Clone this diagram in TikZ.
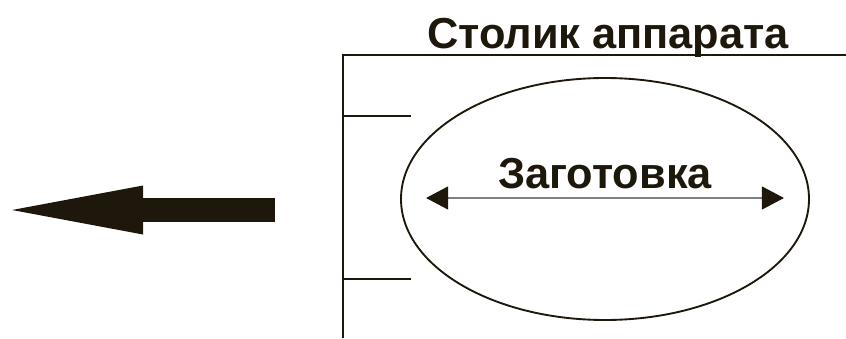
\documentclass[tikz,border=0pt]{standalone}
\usepackage{fontspec}
\setmainfont{Liberation Sans}
\usetikzlibrary{arrows.meta, shapes.geometric, positioning, calc}
\definecolor{ink}{HTML}{1E170C}

\begin{document}
\begin{tikzpicture}[x=0.03cm, y=-0.03cm,
	every node/.append style={text=ink, inner sep=0pt},
	frameline/.style={draw=ink, line width=2.2pt},
	label/.style={font=\bfseries\fontsize{#1}{#1}\selectfont, anchor=base}]
	\useasboundingbox (0,0) rectangle (846,338);
	% table of the machine
	\coordinate (c1) at (846,55);
	\coordinate (c2) at (343,55);
	\coordinate (c3) at (343,338);
	\draw[frameline] (c1) -- (c2) -- (c3);
		\foreach \y in {116,279}
			\draw[frameline] (343,\y) -- (411,\y);
	\node[label=37] (stol) at (608,49) {Столик аппарата};
	% blank
	\node[ellipse, draw=ink, line width=1.6pt, minimum width=408*0.03cm, minimum height=242*0.03cm] (blank) at (605,199) {};
	\node[label=37] (zag) at (605,188) {Заготовка};
	\coordinate (zl) at ($(blank.west)+(26,-1)$);
	\coordinate (zr) at ($(blank.east)+(-26,-1)$);
	\draw[gray, line width=0.9pt, {Triangle[length=22*0.03cm, width=23*0.03cm, color=ink]}-{Triangle[length=22*0.03cm, width=23*0.03cm, color=ink]}] (zl) -- (zr);
	% feed direction
	\coordinate (s0) at (275,210);
	\coordinate (s1) at (12,210);
	\draw[ink, line width=24*0.03cm, -{Triangle[length=131*0.03cm, width=49*0.03cm, line width=0pt]}] (s0) -- (s1);
\end{tikzpicture}
\end{document}
